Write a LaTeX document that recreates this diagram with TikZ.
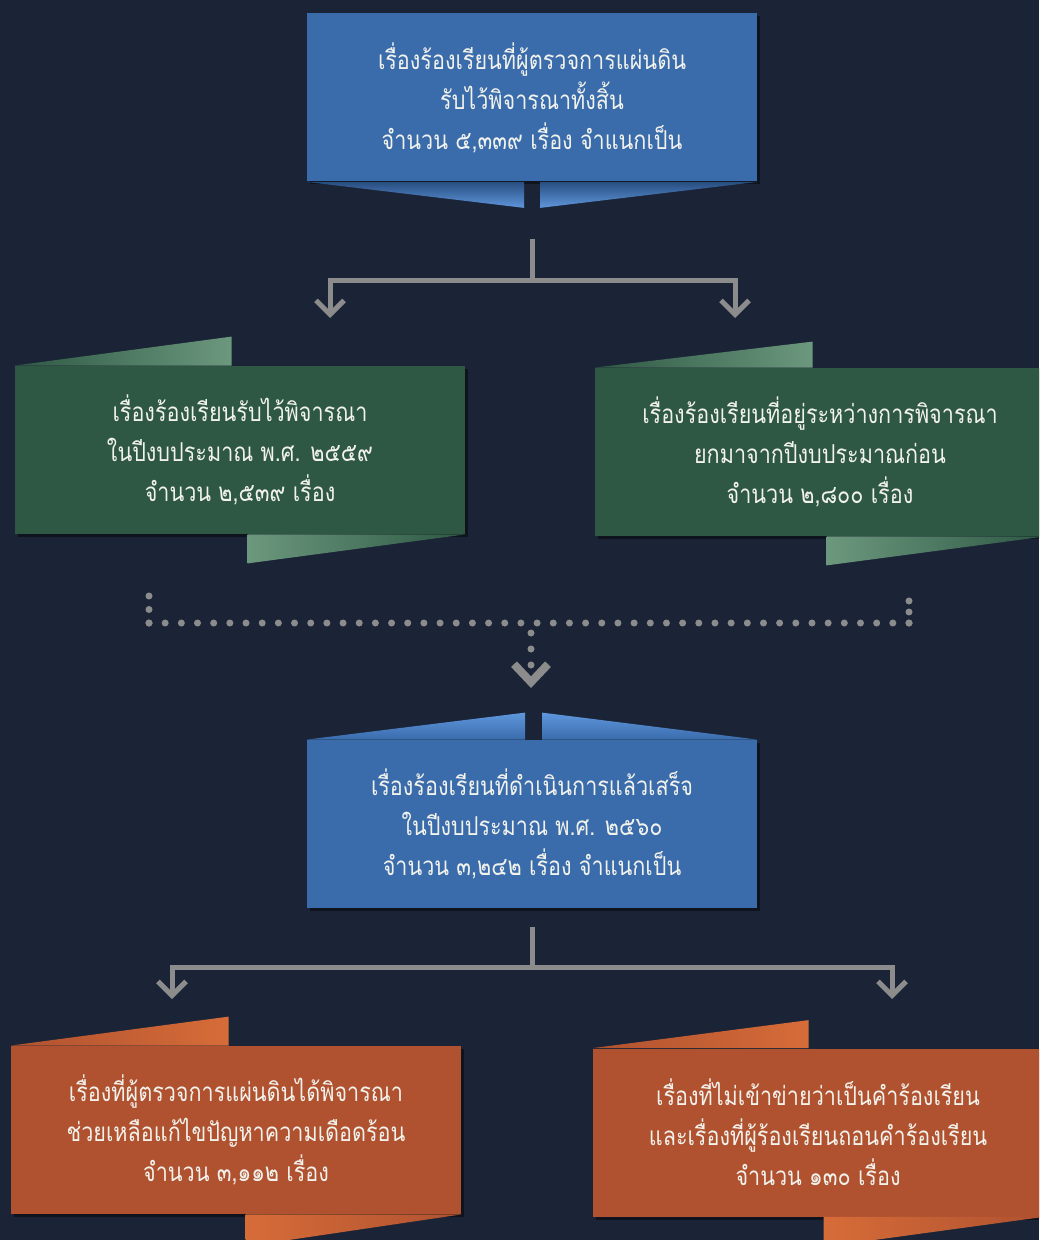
\documentclass[tikz,border=0pt]{standalone}
\usepackage{fontspec}
\newfontfamily\thaifont[Script=Thai, FakeStretch=0.83]{Loma}
\usetikzlibrary{arrows.meta, calc, shadows}
\definecolor{bgNavy}    {RGB}{27,36,54}
\definecolor{boxBlue}   {RGB}{58,108,172}
\definecolor{tabBlueL}  {RGB}{95,150,220}
\definecolor{tabBlueD}  {RGB}{40,78,128}
\definecolor{boxGreen}  {RGB}{46,88,68}
\definecolor{flapGreen} {RGB}{108,152,126}
\definecolor{boxOrange} {RGB}{176,82,48}
\definecolor{flapOrange}{RGB}{214,108,56}
\definecolor{lineGray}  {RGB}{140,140,140}
\definecolor{txtWhite}  {RGB}{242,242,236}

\tikzset{
  ribbon/.style={minimum width=225pt, minimum height=84pt, inner sep=0pt,
    align=center, text=txtWhite, font=\thaifont\fontsize{13}{20}\selectfont,
    drop shadow={shadow xshift=1.5pt, shadow yshift=-1.5pt, fill=black, opacity=0.45}},
  bluebox/.style={ribbon, fill=boxBlue},
  greenbox/.style={ribbon, fill=boxGreen},
  orangebox/.style={ribbon, fill=boxOrange},
  flowline/.style={draw=lineGray, line width=2.5pt,
    -{Straight Barb[length=7pt, width=14pt]}},
  dotline/.style={draw=lineGray, line width=3.5pt, line cap=round},
}

\begin{document}
\begin{tikzpicture}[x=0.5pt, y=-0.5pt]
  \useasboundingbox (0,0) rectangle (1039,1240);
  \clip (0,0) rectangle (1039,1240);
  \fill[bgNavy] (0,0) rectangle (1039,1240);

  % boxes
  \node[bluebox] (total) at (532,97.5)
    {เรื่องร้องเรียนที่ผู้ตรวจการแผ่นดิน\\รับไว้พิจารณาทั้งสิ้น\\จำนวน ๕,๓๓๙ เรื่อง จำแนกเป็น};
  \node[greenbox] (newcase) at (240,450)
    {เรื่องร้องเรียนรับไว้พิจารณา\\ในปีงบประมาณ พ.ศ. ๒๕๕๙\\จำนวน ๒,๕๓๙ เรื่อง};
  \node[greenbox] (oldcase) at (820,452)
    {เรื่องร้องเรียนที่อยู่ระหว่างการพิจารณา\\ยกมาจากปีงบประมาณก่อน\\จำนวน ๒,๘๐๐ เรื่อง};
  \node[bluebox] (done) at (532,824)
    {เรื่องร้องเรียนที่ดำเนินการแล้วเสร็จ\\ในปีงบประมาณ พ.ศ. ๒๕๖๐\\จำนวน ๓,๒๔๒ เรื่อง จำแนกเป็น};
  \node[orangebox] (helped) at (236,1130)
    {เรื่องที่ผู้ตรวจการแผ่นดินได้พิจารณา\\ช่วยเหลือแก้ไขปัญหาความเดือดร้อน\\จำนวน ๓,๑๑๒ เรื่อง};
  \node[orangebox] (dropped) at (818,1132.5)
    {เรื่องที่ไม่เข้าข่ายว่าเป็นคำร้องเรียน\\และเรื่องที่ผู้ร้องเรียนถอนคำร้องเรียน\\จำนวน ๑๓๐ เรื่อง};

  % ribbon tabs and flaps
  \path[top color=tabBlueD, bottom color=tabBlueL]
    (total.south west) -- ($(total.south)+(-8,0)$) -- ($(total.south)+(-8,26)$) -- cycle;
  \path[top color=tabBlueD, bottom color=tabBlueL]
    ($(total.south)+(8,0)$) -- ($(total.south)+(8,26)$) -- (total.south east) -- cycle;
  \path[top color=tabBlueL, bottom color=boxBlue]
    (done.north west) -- ($(done.north)+(-7,-27)$) -- ($(done.north)+(-7,0)$) -- cycle;
  \path[top color=tabBlueL, bottom color=boxBlue]
    ($(done.north)+(10,-27)$) -- ($(done.north)+(10,0)$) -- (done.north east) -- cycle;
  \path[left color=boxGreen, right color=flapGreen]
    (newcase.north west) -- ($(newcase.north west)+(217,-29)$) -- ($(newcase.north west)+(217,0)$) -- cycle;
  \path[left color=flapGreen, right color=boxGreen]
    ($(newcase.south west)+(233,0)$) -- ($(newcase.south west)+(233,29)$) -- (newcase.south east) -- cycle;
  \path[left color=boxGreen, right color=flapGreen]
    (oldcase.north west) -- ($(oldcase.north west)+(218,-26)$) -- ($(oldcase.north west)+(218,0)$) -- cycle;
  \path[left color=flapGreen, right color=boxGreen]
    ($(oldcase.south west)+(232,0)$) -- ($(oldcase.south west)+(232,29)$) -- (oldcase.south east) -- cycle;
  \path[left color=boxOrange, right color=flapOrange]
    (helped.north west) -- ($(helped.north west)+(218,-29)$) -- ($(helped.north west)+(218,0)$) -- cycle;
  \path[left color=flapOrange, right color=boxOrange]
    ($(helped.south west)+(235,0)$) -- ($(helped.south west)+(235,32)$) -- (helped.south east) -- cycle;
  \path[left color=boxOrange, right color=flapOrange]
    (dropped.north west) -- ($(dropped.north west)+(216,-28)$) -- ($(dropped.north west)+(216,0)$) -- cycle;
  \path[left color=flapOrange, right color=boxOrange]
    ($(dropped.south west)+(231,0)$) -- ($(dropped.south west)+(231,30)$) -- (dropped.south east) -- cycle;

  % connectors
  \coordinate (split1) at ($(total.south)+(0,57)$);
  \coordinate (toNew) at (330,318);
  \coordinate (toOld) at (735,318);
  \draw[flowline] (split1) -- ++(0,42) -| (toNew);
  \draw[flowline] (split1) -- ++(0,42) -| (toOld);

  \coordinate (dotL) at (149,596);
  \coordinate (dotR) at (909,601);
  \coordinate (dotJ) at (531,623);
  \coordinate (toDone) at (531,688);
  \draw[dotline, dash pattern=on 0pt off 6.75pt] (dotL |- dotJ) -- (dotL);
  \draw[dotline, dash pattern=on 0pt off 5.5pt] (dotR |- dotJ) -- (dotR);
  \draw[dotline, dash pattern=on 0pt off 8.085pt] (dotL |- dotJ) -- ($(dotR |- dotJ)+(0.5,0)$);
  \draw[dotline, dash pattern=on 0pt off 8pt,
    -{Straight Barb[length=9pt, width=17pt, line width=4pt, line cap=butt]}]
    ($(dotJ)+(0,10)$) -- (toDone);

  \coordinate (split2) at ($(done.south)+(0,19)$);
  \coordinate (toHelped) at (172,999);
  \coordinate (toDropped) at (892,999);
  \draw[flowline] (split2) -- ++(0,40) -| (toHelped);
  \draw[flowline] (split2) -- ++(0,40) -| (toDropped);
\end{tikzpicture}
\end{document}
